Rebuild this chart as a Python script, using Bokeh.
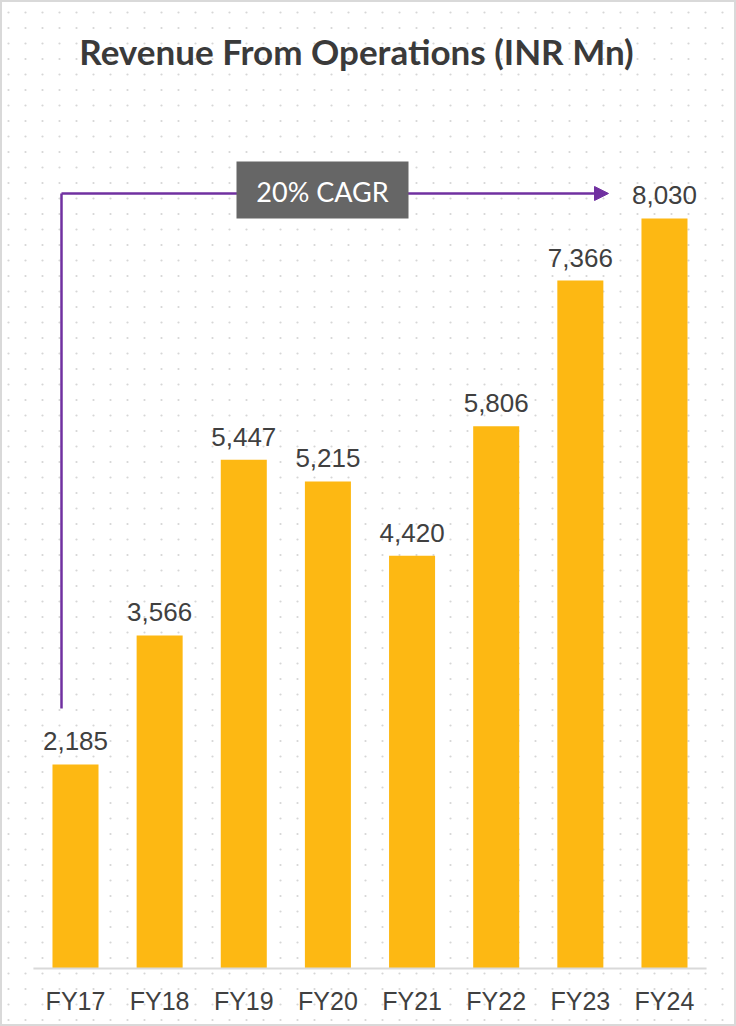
import numpy as np
from bokeh.plotting import figure
from bokeh.models import Range1d, Arrow, NormalHead
from bokeh.core.properties import value
from bokeh.embed import file_html
from bokeh.resources import INLINE

# ---- data ----
categories = ["FY17", "FY18", "FY19", "FY20", "FY21", "FY22", "FY23", "FY24"]
revenue = [2185, 3566, 5447, 5215, 4420, 5806, 7366, 8030]
value_labels = [f"{v:,}" for v in revenue]
title_text = "Revenue From Operations (INR Mn)"
cagr_text = "20% CAGR"

# ---- styling ----
W, H = 736, 1026
BAR = "#FDB813"
PURPLE = "#7030A0"
TXT = "#404040"

# pixel <-> data mapping (layout only)
X0, DX = 75.0, 84.14       # px of first category centre, px per category
BASE, K = 968.0, 0.0934    # px of zero line, px per unit


def px_x(px):
    return (px - X0) / DX


def px_y(py):
    return (BASE - py) / K


p = figure(width=W, height=H, x_range=Range1d(px_x(0), px_x(W)),
           y_range=Range1d(px_y(H), px_y(0)),
           x_axis_location=None, y_axis_location=None,
           toolbar_location=None, output_backend="svg", min_border=0)
p.grid.visible = False
p.background_fill_color = "white"
p.border_fill_color = "white"
p.outline_line_color = "#d9d9d9"
p.outline_line_width = 3

# faint dotted background texture
gx, gy = np.meshgrid(np.arange(8, W, 17.0), np.arange(12, H, 15.5))
dots = p.scatter(px_x(gx.ravel()), px_y(gy.ravel()), size=2.2,
                 color="#d6d6d6", line_color=None)
dots.level = "image"

xs = list(range(len(categories)))

# bars
p.vbar(x=xs, top=revenue, bottom=0, width=0.547, fill_color=BAR, line_color=None)

# baseline
p.line([-0.5, len(categories) - 0.5], [0, 0], line_color="#d9d9d9", line_width=2)

# value labels
p.text(x=xs, y=revenue, text=value_labels, y_offset=-23,
       text_align="center", text_baseline="middle",
       text_font=value("Liberation Sans"), text_font_size="26px", text_color=TXT)

# category labels
p.text(x=xs, y=[px_y(1000)] * len(xs), text=categories,
       text_align="center", text_baseline="middle",
       text_font=value("Liberation Sans"), text_font_size="25px", text_color=TXT)

# title
p.text(x=[px_x(356)], y=[px_y(50)], text=[title_text],
       text_align="center", text_baseline="middle",
       text_font=value("Lato"), text_font_style="bold",
       text_font_size="35px", text_color="#3a3a3a")

# CAGR arrow
ax0 = xs[0] - (X0 - 61) / DX
ay0 = revenue[0] + (765 - 709) / K
ay1 = revenue[-1] + (219 - 194) / K
ax1 = xs[-1] - 0.665
p.segment(x0=[ax0], y0=[ay0], x1=[ax0], y1=[ay1], line_color=PURPLE, line_width=2.5)
arr = Arrow(end=NormalHead(size=14, fill_color=PURPLE, line_color=PURPLE, line_width=1),
            x_start=ax0, y_start=ay1, x_end=ax1, y_end=ay1,
            line_color=PURPLE, line_width=2.5, level="underlay")
p.add_layout(arr)

# CAGR box
p.rect(x=[px_x(322)], y=[px_y(189.5)], width=172, height=57,
       width_units="screen", height_units="screen",
       fill_color="#666666", line_color=None)
p.text(x=[px_x(322)], y=[px_y(191)], text=[cagr_text],
       text_align="center", text_baseline="middle",
       text_font=value("Lato"), text_font_size="27px", text_color="white")

open("out.html", "w").write(file_html(p, INLINE))
